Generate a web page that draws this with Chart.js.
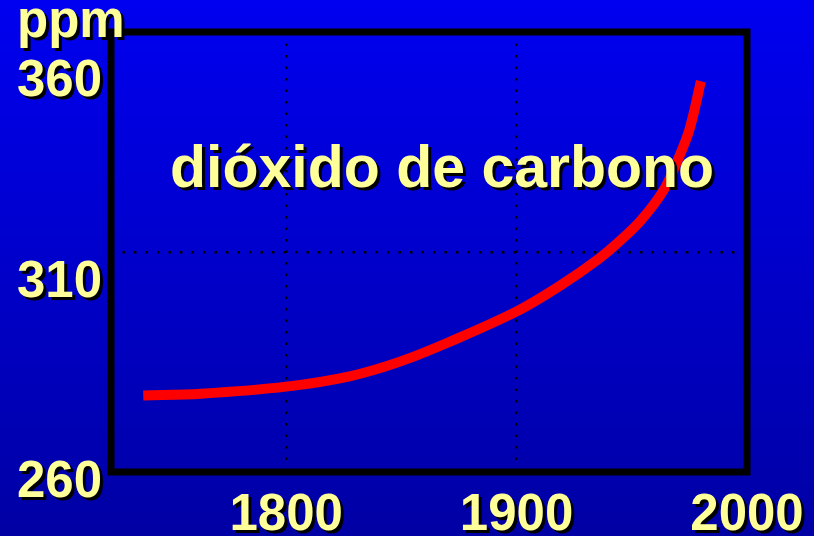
<!DOCTYPE html>
<html>
<head>
<meta charset="utf-8">
<title>dióxido de carbono</title>
<script src="https://cdn.jsdelivr.net/npm/chart.js@4/dist/chart.umd.min.js"></script>
<style>
  html, body { margin: 0; padding: 0; }
  body {
    width: 814px; height: 536px; overflow: hidden;
    background: linear-gradient(#0000f0, #0000a4);
  }
  canvas { display: block; }
</style>
</head>
<body>
<canvas id="co2Chart" width="814" height="536"></canvas>
<script>
// values
var years = [1738, 1763, 1800, 1828, 1850, 1871, 1900, 1919, 1936, 1945, 1954, 1964, 1970, 1975, 1980];
var ppm = [277.4, 277.8, 279.4, 281.8, 285.2, 289.6, 296.5, 302.4, 308.6, 312.6, 317.2, 324.2, 331.0, 337.8, 348.8];
var xTicks = [1800, 1900, 2000];
var yTicks = [260, 310, 360];
var yGrid = [310];
var unitLabel = 'ppm';
var titleText = 'dióxido de carbono';

var yellow = '#FFFF99';
var fontFamily = '"Liberation Sans", Arial, sans-serif';

var points = years.map(function (y, i) { return { x: y, y: ppm[i] }; });

// box round the plot, title and drop shadows on the text
var slideDecor = {
  id: 'slideDecor',
  beforeDatasetsDraw: function (chart) {
    var ctx = chart.ctx, a = chart.chartArea;
    ctx.save();
    ctx.strokeStyle = '#000';
    ctx.lineWidth = 7;
    ctx.strokeRect(a.left, a.top, a.right - a.left, a.bottom - a.top);
    ctx.restore();
  },
  afterDatasetsDraw: function (chart) {
    var ctx = chart.ctx, a = chart.chartArea;
    ctx.shadowColor = '#000';
    ctx.shadowOffsetX = 3;
    ctx.shadowOffsetY = 3;
    ctx.shadowBlur = 0;
    ctx.save();
    ctx.font = 'bold 59px ' + fontFamily;
    ctx.fillStyle = yellow;
    ctx.textAlign = 'left';
    ctx.textBaseline = 'alphabetic';
    ctx.fillText(titleText, a.left + 59, a.top + 155);
    ctx.restore();
    // shadow stays on for the tick labels drawn next (z: 1)
  },
  afterDraw: function (chart) {
    var ctx = chart.ctx;
    ctx.shadowColor = 'rgba(0,0,0,0)';
    ctx.shadowOffsetX = 0;
    ctx.shadowOffsetY = 0;
  }
};

var ctx = document.getElementById('co2Chart').getContext('2d');
window.co2ChartInstance = new Chart(ctx, {
  type: 'line',
  data: {
    datasets: [{
      label: 'CO2',
      data: points,
      borderColor: '#FF0000',
      borderWidth: 10,
      borderCapStyle: 'butt',
      pointRadius: 0,
      fill: false,
      tension: 0.35
    }]
  },
  options: {
    responsive: false,
    animation: false,
    layout: { padding: { top: 32, right: 67, left: 0, bottom: 0 } },
    plugins: { legend: { display: false }, tooltip: { enabled: false } },
    scales: {
      x: {
        type: 'linear',
        min: 1724,
        max: 2000,
        afterBuildTicks: function (s) { s.ticks = xTicks.map(function (v) { return { value: v }; }); },
        afterFit: function (s) { s.height = 64; s.paddingLeft = 0; s.paddingRight = 0; },
        grid: { color: '#000', lineWidth: 2.5, drawTicks: false },
        border: { display: false, dash: [2.5, 9] },
        ticks: {
          color: yellow,
          font: { family: fontFamily, size: 51, weight: 'bold' },
          padding: 13,
          z: 1,
          autoSkip: false,
          maxRotation: 0,
          callback: function (v) { return String(v); }
        }
      },
      y: {
        type: 'linear',
        position: 'left',
        min: 260,
        max: 360,
        afterBuildTicks: function (s) { s.ticks = yGrid.map(function (v) { return { value: v }; }); },
        afterFit: function (s) { s.width = 111; s.paddingTop = 0; s.paddingBottom = 0; },
        grid: { color: '#000', lineWidth: 2.5, drawTicks: false },
        border: { display: false, dash: [2.5, 9] },
        ticks: { display: false }
      },
      // label-only axis: the slide's y labels sit a little below their values
      yl: {
        type: 'linear',
        position: 'left',
        weight: 1,
        min: 260,
        max: 369.7,
        afterBuildTicks: function (s) { s.ticks = yTicks.map(function (v) { return { value: v }; }); },
        afterFit: function (s) { s.width = 0; s.paddingTop = 0; s.paddingBottom = 0; },
        grid: { display: false, drawTicks: false },
        border: { display: false },
        ticks: {
          mirror: true,
          crossAlign: 'near',
          padding: 17,
          labelOffset: 11,
          z: 1,
          autoSkip: false,
          color: yellow,
          font: { family: fontFamily, size: 51, weight: 'bold', lineHeight: 1.16 },
          callback: function (v) { return v === 360 ? [unitLabel, String(v), ''] : String(v); }
        }
      }
    }
  },
  plugins: [slideDecor]
});
</script>
</body>
</html>
